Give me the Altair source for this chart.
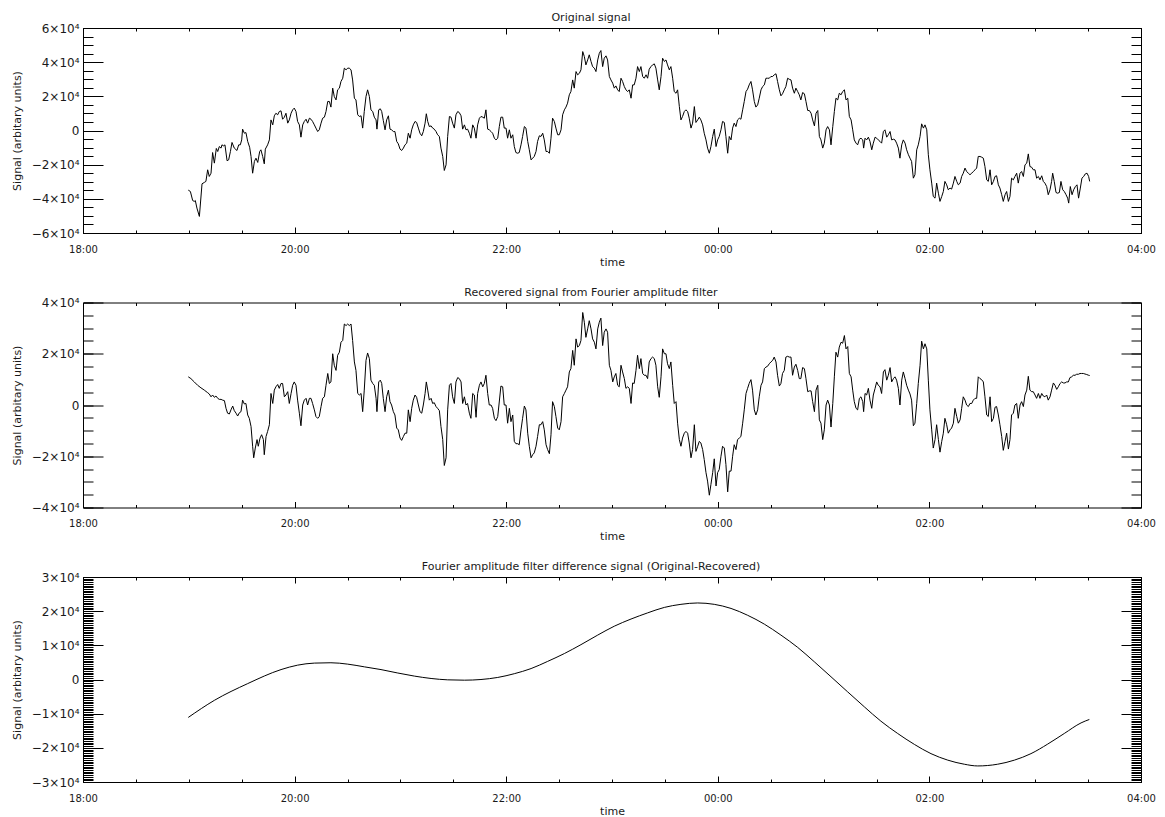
import altair as alt
import pandas as pd

# Time is given in minutes after 18:00 (so 60 = 19:00, 600 = 04:00 next day).
# Signals are in arbitrary units.

time_a1 = [59.7, 60.9, 62.2, 63.1, 63.7, 64.6, 66.0, 67.5, 68.8, 69.7,
           70.7, 71.6, 72.6, 73.5, 74.5, 75.6, 76.4, 77.3, 78.3, 78.8,
           79.8, 80.5, 81.7, 82.6, 83.6, 84.5, 85.8, 87.3, 88.3, 89.2,
           90.0, 90.5, 91.5, 92.4, 93.4, 94.5, 95.3, 96.2, 97.2, 98.1,
           99.1, 100.2, 100.9, 101.9, 102.8, 103.4, 104.7, 105.7, 106.6, 107.6,
           108.5, 109.4, 110.4, 111.3, 112.3, 113.2, 114.2, 115.1, 116.1, 117.0,
           118.0, 118.9, 119.8, 120.8, 121.7, 122.7, 123.6, 124.6, 125.5, 126.5,
           127.4, 128.4, 129.3, 130.2, 131.2, 132.1, 133.1, 134.0, 135.0, 135.9,
           136.9, 137.8, 138.8, 139.7, 140.6, 141.6, 142.5, 143.5, 144.4, 145.4,
           146.3, 147.3, 148.2, 149.2, 150.1, 151.0, 152.0, 152.9, 153.9, 154.8,
           155.8, 156.7, 157.7, 158.6, 159.5, 160.5, 161.4, 162.4, 163.3, 164.3,
           165.2, 166.2, 166.7, 167.7, 168.6, 169.4, 170.3, 171.3, 172.2, 173.2,
           174.1, 175.0, 176.0, 176.9, 177.9, 178.8, 179.8, 180.7, 181.7, 182.6,
           183.6, 184.5, 185.5, 186.4, 187.3, 188.3, 189.2, 190.2, 191.1, 192.1,
           193.0, 194.0, 194.7, 195.5, 196.4, 197.4, 198.3, 199.2, 200.2, 201.1,
           202.1, 203.0, 204.0, 204.9, 205.9, 206.8, 207.8, 208.7, 209.6, 210.6,
           211.5, 212.5, 213.4, 214.4, 215.3, 216.3, 217.2, 218.1, 219.1, 220.0,
           221.0, 221.9, 222.9, 223.8, 224.8, 225.7, 226.7, 227.6, 228.5, 229.5,
           230.4, 231.4, 232.3, 233.3, 234.2, 235.2, 236.1]

orig_a = [-34900, -35700, -41000, -41500, -41000, -45400, -50300, -31200, -30400, -29800,
          -23000, -26900, -25000, -12900, -19100, -10500, -12300, -9400, -10300, -8400,
          -9000, -8400, -17700, -17200, -12300, -7000, -10300, -11700, -8400, -8400,
          -5500, 800, -1600, -1200, -6400, -9800, -15200, -25000, -18100, -16200,
          -18700, -12300, -11300, -15200, -19500, -10900, -8400, -5500, 6200, 3300,
          8600, 10100, 9200, 11100, 11500, 6600, 7800, 10100, 4300, 6200,
          10100, 12100, 13100, 11100, 5300, 3300, -3900, 3300, 5300, 6600,
          4300, 7200, 6600, 5300, 3300, 1400, -600, 400, 4300, 7200,
          7800, 11100, 17000, 17000, 13700, 24800, 19900, 17900, 23800, 24800,
          28700, 30600, 36500, 35500, 36500, 36500, 35500, 29600, 18900, 17900,
          9200, 8200, 8600, 1400, 11100, 19900, 23800, 19900, 12100, 11100,
          7800, 6200, 800, 12100, 12700, 11100, 5900, 400, 6200, 8600,
          800, 400, -600, -600, -6400, -7800, -10900, -11700, -10300, -8400,
          -7400, -1600, -4500, 400, 3300, 5300, 4700, 1400, -1600, -3100,
          -600, 4300, 9800, 5300, 2300, 2700, 1400, 800, -600, -2500,
          -3500, -10300, -15200, -23400, -20100, -3500, 8200, 7800, 4300, 1400,
          9200, 11100, 10500, 8600, 800, 3300, 400, 800, -1600, -4500,
          3300, 1400, -4500, 3300, 7200, 8200, 7800, 7200, 12100, 800,
          400, -600, -1600, -4500, -5500, -4500, 2300]

time_a2 = [59.7, 61.2, 63.1, 65.0, 66.9, 68.8, 70.7, 71.6, 72.6, 73.5,
           74.5, 75.4, 76.4, 77.3, 78.3, 79.2, 80.2, 81.1, 82.0, 83.0,
           83.9, 84.9, 85.8, 86.8, 87.7, 88.7, 89.6, 90.5, 91.5, 92.4,
           93.4, 94.3, 95.3, 96.2, 96.8, 97.7, 98.7, 99.4, 100.4, 101.3,
           102.3, 102.8, 103.8, 104.7, 105.7, 106.6, 107.6, 108.5, 109.4, 110.4,
           111.3, 112.3, 113.2, 114.2, 115.1, 116.1, 117.0, 118.0, 118.9, 119.8,
           120.8, 121.7, 122.7, 123.6, 124.6, 125.5, 126.5, 127.4, 128.4, 129.3,
           130.2, 131.2, 132.1, 133.1, 134.0, 135.0, 135.9, 136.9, 137.8, 138.8,
           139.7, 140.6, 141.6, 142.5, 143.5, 144.4, 145.4, 146.3, 147.3, 148.2,
           149.2, 150.1, 151.0, 152.0, 152.9, 153.9, 154.8, 155.8, 156.7, 157.7,
           158.6, 159.5, 160.5, 161.4, 162.4, 163.3, 164.3, 165.2, 166.2, 166.7,
           167.7, 168.6, 169.4, 170.3, 171.3, 172.2, 173.2, 174.1, 175.0, 176.0,
           176.9, 177.9, 178.8, 179.8, 180.7, 181.7, 182.6, 183.6, 184.5, 185.5,
           186.4, 187.3, 188.3, 189.2, 190.2, 191.1, 192.1, 193.0, 194.0, 194.7,
           195.5, 196.4, 197.4, 198.3, 199.2, 200.2, 201.1, 202.1, 203.0, 204.0,
           204.9, 205.9, 206.8, 207.8, 208.7, 209.6, 210.6, 211.5, 212.5, 213.4,
           214.4, 215.3, 216.3, 217.2, 218.1, 219.1, 220.0, 221.0, 221.9, 222.9,
           223.8, 224.8, 225.7, 226.7, 227.6, 228.5, 229.5, 230.4, 231.4, 232.3,
           233.3, 234.2, 235.2]

rec_a = [11000, 10300, 9000, 7700, 6700, 5800, 4800, 4300, 3200, 3900,
         3000, 3500, 2600, 2200, 2200, 1900, 1700, -1300, -3200, -3500,
         -1900, -400, -2200, -3200, -4300, -3000, -2600, 1900, 400, 600,
         -3900, -5200, -8400, -16100, -20600, -16800, -13500, -16100, -12900, -11600,
         -13500, -19400, -12300, -10300, -7700, 4500, 600, 5800, 7100, 8000,
         6500, 8400, 8400, 3200, 3900, 5200, 600, 4500, 7700, 9000,
         7700, 1900, -3200, -8100, 0, 1900, 2600, 0, 2600, 2600,
         600, -1900, -4500, -5200, -4500, -600, 2600, 3200, 7700, 12300,
         8400, 9000, 20000, 15500, 13500, 19400, 20600, 24500, 25200, 31600,
         31000, 31600, 31000, 31600, 25200, 16800, 13500, 4500, 3900, 4500,
         -2600, 5800, 17400, 20300, 18100, 9700, 8400, 7700, 2600, -2600,
         9000, 9700, 8400, 2600, -2600, 3200, 5800, 1300, 0, -2600,
         -3900, -9000, -9700, -12900, -13800, -12300, -11000, -11000, -1900, -6500,
         -1300, 1900, 3900, 3000, 0, -2600, -3200, 0, 4500, 9000,
         5800, 1900, 2600, 600, 900, -600, -1300, -2200, -8400, -13500,
         -23600, -20600, -1900, 7700, 8400, 3200, 600, 9000, 10700, 10300,
         9000, 600, 3200, 0, 600, -3200, -5200, 4500, 3900, -4800,
         4500, 7700, 9000, 7100, 8400, 11600, 4500, 0, 0, -1300,
         -5200, -6100, -4500]

time_b = [237.0,
          238.0, 238.9, 239.9, 240.8, 241.8, 242.7, 243.7, 244.6, 245.5, 246.5,
          247.4, 248.4, 249.3, 250.3, 251.2, 252.2, 253.1, 254.1, 255.0, 255.9,
          256.9, 257.8, 258.8, 259.7, 260.7, 261.6, 262.6, 263.5, 264.5, 265.4,
          266.3, 267.3, 268.2, 269.2, 270.1, 271.1, 272.0, 273.0, 273.9, 274.8,
          275.8, 276.7, 277.7, 278.6, 279.6, 280.5, 281.5, 282.4, 283.4, 284.3,
          285.2, 286.2, 287.1, 288.1, 289.0, 290.0, 290.9, 291.9, 292.8, 293.7,
          294.7, 295.6, 296.6, 297.5, 298.5, 299.4, 300.4, 301.3, 302.2, 303.2,
          304.1, 305.1, 306.0, 307.0, 307.9, 308.9, 309.8, 310.8, 311.7, 312.6,
          313.6, 314.5, 315.5, 316.4, 317.4, 318.3, 319.3, 320.2, 321.1, 322.1,
          323.0, 324.0, 324.9, 325.9, 326.8, 327.8, 328.7, 329.7, 330.6, 331.5,
          332.5, 333.4, 334.4, 335.3, 336.3, 337.2, 338.2, 339.1, 340.0, 341.0,
          341.9, 342.9, 343.8, 344.8, 345.7, 346.7, 347.6, 348.6, 349.5, 350.4,
          351.4, 352.3, 353.3, 354.2, 355.2, 356.1, 357.1, 358.0, 359.0, 359.9,
          360.8, 361.8, 362.7, 363.7, 364.6, 365.6, 366.5, 367.5, 368.4, 369.3,
          370.3, 371.2, 372.2, 373.1, 374.1, 375.0, 376.0, 376.9, 377.8, 378.8,
          379.7, 380.7, 381.6, 382.6, 383.5, 384.5, 385.4, 386.4, 387.3, 388.2,
          389.2, 390.1, 391.1, 392.0, 393.0, 393.9, 394.9, 395.8, 396.7, 397.7,
          398.6, 399.6, 400.5, 401.5, 402.4, 403.4, 404.3, 405.3, 406.2, 407.1]

orig_b = [7800,
          7800, 1400, 1400, -4500, 400, -4500, -2500, -9400, -12900, -13300,
          -12900, -8400, -3500, 2300, 1400, -6400, -11300, -17200, -16200, -15200,
          -12300, -6400, -3100, -3500, -1600, -5500, -12300, -12300, -13300, -4500,
          7200, 5300, 1400, -2500, -2500, 400, 9200, 12100, 13700, 16000,
          20900, 22800, 29600, 24800, 34500, 32600, 33500, 35500, 46200, 43300,
          38400, 41300, 44300, 40400, 37400, 36500, 34500, 41300, 45200, 46800,
          37400, 42300, 43700, 41300, 31600, 29600, 27700, 24800, 26100, 23800,
          22800, 30600, 28700, 25700, 23800, 22800, 23800, 18900, 26700, 26700,
          30600, 37400, 34500, 37400, 31600, 30600, 32600, 30600, 35900, 37400,
          38400, 39000, 36500, 29600, 23800, 31600, 42300, 40400, 41300, 38400,
          35500, 37400, 30600, 22800, 21800, 23800, 14000, 6200, 8200, 11100,
          12100, 11100, 7200, 1400, 4300, 14000, 4700, 6200, 7800, 6200,
          3300, -1600, -5500, -10300, -13300, -9400, -3500, 800, -9400, -5500,
          -3500, 400, 5300, 4700, -3500, -13300, -3500, -5500, 1400, 4300,
          2300, 6200, 7200, 6600, 12100, 17000, 22800, 24200, 26700, 28700,
          23800, 17000, 13700, 15000, 18900, 23800, 25700, 26700, 30600, 30600,
          30600, 31600, 31600, 32600, 33200, 28700, 23800, 20300, 21500, 23800,
          25700, 30600, 30000, 29600, 24800, 21800, 24800, 22800, 20900, 17900]

rec_b = [7400,
         7100, 0, 0, -7100, -1300, -6500, -3900, -14200, -15100, -15100,
         -15500, -9700, -5200, -400, -1900, -11000, -16100, -20600, -19400, -18700,
         -16100, -12300, -7700, -7700, -6500, -9700, -15500, -17400, -19000, -11600,
         1300, -600, -4500, -9000, -9700, -6500, 3200, 4500, 5800, 7100,
         12900, 14200, 21300, 15500, 25800, 22600, 23200, 25200, 36100, 32300,
         26400, 29700, 32900, 29700, 25800, 24500, 21900, 29700, 32300, 33900,
         23200, 28400, 29700, 28400, 15500, 13500, 9000, 11000, 12300, 7700,
         7100, 15500, 12900, 10300, 6500, 7100, 6500, 600, 8600, 8400,
         13500, 19400, 14200, 18100, 12300, 11600, 11600, 10300, 16800, 18100,
         18700, 18100, 15500, 7100, 3000, 11000, 21900, 20000, 20000, 16100,
         14200, 16800, 7700, 600, 1300, -7100, -13500, -16100, -12900, -11000,
         -10300, -11000, -14800, -20600, -17400, -7700, -18100, -16100, -14200, -14800,
         -17400, -21300, -26400, -29700, -35200, -31000, -26400, -21000, -31600, -26400,
         -25200, -20000, -16100, -16800, -23200, -33900, -25800, -25800, -20000, -15500,
         -17400, -13500, -12900, -12300, -7100, -1900, 4500, 6500, 8400, 9900,
         5800, -1900, -3900, -1900, 3200, 7700, 9000, 14200, 14800, 15100,
         16100, 16800, 17400, 18700, 16800, 11600, 7400, 8400, 12300, 13500,
         18700, 19000, 18700, 18700, 11600, 14800, 15900, 13500, 10300, 10300]

time_c = [408.1, 409.1, 410.0, 411.0, 411.9, 412.9, 413.8, 414.8, 415.7, 416.7,
          417.6, 418.5, 419.5, 420.4, 421.4, 422.3, 423.3, 424.2, 425.2, 426.1,
          427.0, 428.0, 428.9, 429.9, 430.8, 431.8, 432.7, 433.7, 434.6, 435.6,
          436.5, 437.4, 438.4, 439.3, 440.3, 441.2, 442.2,
          442.7,
          443.5, 444.4, 445.4, 446.3, 447.3, 448.2, 449.2, 450.1, 451.0, 452.0,
          452.9, 453.9, 454.8, 455.8, 456.7, 457.7, 458.6, 459.6, 460.5, 461.4,
          462.4, 463.3, 464.3, 465.2, 466.2, 467.1, 468.1, 469.0, 469.9, 470.9,
          471.8, 472.8, 473.7, 474.7, 475.6, 476.6, 477.5, 478.5, 479.4, 480.3,
          481.3, 482.2, 483.2, 484.1, 485.1, 486.0, 487.0, 487.9, 488.8, 489.8,
          490.7, 491.7, 492.6, 493.6, 494.5, 495.5, 496.4, 497.4, 498.3, 499.2,
          500.2, 501.1, 502.1, 503.0, 504.0, 504.9, 505.9, 506.8, 507.7, 508.7,
          509.6, 510.6, 511.5, 512.5, 513.4, 514.4, 515.3, 516.3, 517.2, 518.1,
          519.1, 520.0, 521.0, 521.9, 522.9, 523.8, 524.8, 525.7, 526.6, 527.6,
          528.5, 529.5, 530.4, 531.4, 532.3, 533.3, 534.2, 535.2, 536.1, 537.0,
          538.0, 538.9, 539.9, 540.8, 541.8, 542.7, 543.7, 544.6, 545.5, 546.5,
          547.4, 548.4, 549.3]

orig_c = [22200, 21500, 17000, 11700, 11700, 10100, 6200, 2700, 10100, 11700,
          -3500, -5500, -10300, -7400, 400, 2300, 400, -8400, 2300, 11100,
          18900, 17900, 21800, 20900, 22800, 23800, 17900, 18900, 8200, 6200,
          400, -5500, -7400, -8400, -5100, -4500, -5500,
          -10300,
          -4500, -5500, -3900, -6400, -11300, -7400, -3900, -4500, -5500, -6400,
          -7400, -600, 400, -3900, -2500, -600, -5500, -5100, -5500, -7400,
          -10300, -16200, -8400, -5500, -7400, -11300, -14200, -16200, -18100, -27900,
          -25900, -11300, -8400, -3500, 3900, 1400, 3300, 400, -14200, -23000,
          -30800, -38600, -39600, -30800, -36700, -41500, -38600, -35700, -29800, -31800,
          -34700, -33700, -34300, -30800, -26900, -29800, -31800, -30800, -26900, -25000,
          -22000, -24000, -25000, -25900, -25000, -24000, -23000, -22000, -15200, -15200,
          -15600, -16200, -21100, -28900, -29800, -23000, -31800, -29800, -26900, -26500,
          -31800, -33700, -37600, -41500, -37600, -35700, -41500, -38600, -27900, -28900,
          -26900, -25000, -30800, -25000, -24000, -26900, -20100, -19100, -13700, -21100,
          -21500, -23000, -23000, -27900, -26900, -28900, -26500, -29800, -30800, -32800,
          -37600, -34700, -29800]

rec_c = [14600, 14200, 10300, 5200, 5500, 5500, 1300, -2600, 5800, 7700,
         -5800, -7100, -13500, -9700, 0, 1900, 0, -8600, 600, 11000,
         20600, 18700, 22600, 24500, 24100, 27100, 21900, 22800, 12300, 11000,
         5800, 1300, -1300, -1900, 2600, 3200, 1300,
         -2600,
         4500, 3900, 6500, 1900, -1300, 3900, 6500, 9000, 7700, 7100,
         4500, 12900, 13800, 9700, 11600, 14600, 9000, 10300, 11000, 9700,
         6500, 0, 9700, 12900, 10300, 7700, 5800, 4300, 1900, -8100,
         -7100, 600, 8400, 15500, 24900, 21900, 23900, 21900, 9700, -1900,
         -9700, -16800, -13500, -7700, -13500, -18400, -14200, -11000, -5200, -7700,
         -11000, -9700, -9000, -7100, -1300, -4500, -7100, -5800, -1300, 3200,
         1900, 0, -600, 600, 600, 1900, 2600, 2600, 11000, 10300,
         9900, 9000, 3200, -3900, -4500, 3200, -6500, -5200, -900, -600,
         -3900, -7700, -12300, -17700, -14200, -11000, -17200, -13500, -3900, -3200,
         0, 600, -5200, 0, 1300, -600, 3900, 5800, 11200, 5800,
         5200, 5200, 3900, 2600, 4500, 2600, 4500, 3500, 3200, 3900,
         1900, 3200, 5800]

time_d1 = [549.9, 550.8, 551.8, 552.7, 553.7, 554.6, 555.6, 556.5, 557.5, 558.4,
           559.0, 559.9, 560.9, 561.8, 562.8, 563.7, 564.6, 565.6, 566.5, 567.5,
           568.4, 569.4, 570.3, 570.9]
orig_d = [-25000, -29800, -36300, -36700, -36300, -29800, -34700, -35700, -37600, -39600,
          -42500, -32800, -37600, -34700, -32800, -31800, -39600, -33700, -27900, -26900,
          -25400, -25000, -26900, -29800]

time_d2 = [550.3, 551.2, 552.2, 553.1, 554.1, 555.0, 556.0, 556.9, 557.8, 558.8,
           559.7, 560.7, 561.6, 562.6, 563.5, 564.5, 565.4, 566.3, 567.3, 568.2,
           569.2, 570.3, 570.9]
rec_d = [8600, 7700, 6100, 7100, 8400, 9000, 8600, 8600, 9000, 9000,
         10700, 11000, 11600, 11600, 12000, 12000, 12300, 12300, 12300, 12100,
         11900, 11600, 11500]

diff_time = [59.7, 74.5, 93.4, 112.3, 121.7, 131.2, 140.6, 150.1, 159.6, 169.0,
             178.5, 187.9, 197.4, 206.8, 216.3, 225.7, 235.2, 244.6, 254.1, 263.5,
             273.0, 282.4, 291.9, 301.3, 310.8, 320.2, 329.7, 339.1, 348.6, 358.0,
             367.5, 376.9, 386.4, 395.8, 405.3, 414.7, 424.2, 433.6, 443.1, 452.5,
             462.0, 471.5, 480.9, 490.4, 499.8, 507.4, 518.7, 528.2, 537.6, 547.1,
             556.5, 566.0, 570.7]
diff_vals = [-11100, -6100, -1200, 2900, 4200, 4800, 4900, 4500, 3700, 2900,
             1900, 1000, 300, -100, -200, 0, 600, 1700, 3200, 5300,
             7600, 10200, 13000, 15600, 17700, 19500, 21100, 22000, 22400, 22000,
             20800, 18800, 16200, 13000, 9400, 5200, 800, -3600, -8000, -12200,
             -15800, -19000, -21700, -23600, -24800, -25300, -24800, -23600, -21700, -18900,
             -15800, -12700, -11700]

panel_titles = ["Original signal",
                "Recovered signal from Fourier amplitude filter",
                "Fourier amplitude filter difference signal (Original-Recovered)"]
y_title = "Signal (arbitary units)"
x_title = "time"

x_domain = [0, 600]
x_major = [0, 120, 240, 360, 480, 600]
x_minor = list(range(0, 601, 30))

y_domains = [[-60000, 60000], [-40000, 40000], [-30000, 30000]]
y_major = [[-60000, -40000, -20000, 0, 20000, 40000, 60000],
           [-40000, -20000, 0, 20000, 40000],
           [-30000, -20000, -10000, 0, 10000, 20000, 30000]]
y_minor = [list(range(-60000, 60001, 5000)),
           list(range(-40000, 40001, 5000)),
           list(range(-30000, 30001, 500))]

FONT = "DejaVu Sans"
TXT = "#1a1a1a"
X_EXPR = "timeFormat(datetime(2000, 0, 1, 18, datum.value), '%H:%M')"
Y_EXPR = ("datum.value == 0 ? '0' : (datum.value < 0 ? '\u2212' : '') + "
          "format(abs(datum.value) / 10000, 'd') + '\u00d710\u2074'")


def make_axis(orient, values, size, labels=False, expr=None, title=None,
              label_size=11, label_pad=4, title_pad=10):
    kw = dict(orient=orient, values=values, tickSize=size, offset=-size,
              domain=False, grid=False, ticks=True, tickColor="#000",
              tickWidth=1, labels=labels, title=title)
    if labels:
        kw.update(labelExpr=expr, labelFont=FONT, labelFontSize=label_size,
                  labelColor=TXT, labelPadding=label_pad, labelOverlap=False,
                  labelFlush=False)
    if title is not None:
        kw.update(titleFont=FONT, titleFontSize=11, titleFontWeight="normal",
                  titleColor=TXT, titlePadding=title_pad)
    return alt.Axis(**kw)


def panel(t, v, k, smooth=False):
    df = pd.DataFrame({"t": t, "v": v})
    xs = alt.Scale(domain=x_domain, nice=False, zero=False)
    ys = alt.Scale(domain=y_domains[k], nice=False, zero=False)
    combos = [
        (make_axis("bottom", x_major, 6, True, X_EXPR, x_title, 10, 11, 2),
         make_axis("left", y_major[k], 20, True, Y_EXPR, y_title, 12, 4, 9), 1),
        (make_axis("bottom", x_minor, 3), make_axis("left", y_minor[k], 10), 0),
        (make_axis("top", x_major, 6), make_axis("right", y_major[k], 20), 0),
        (make_axis("top", x_minor, 3), make_axis("right", y_minor[k], 10), 0),
    ]
    layers = []
    for xa, ya, op in combos:
        mk = alt.Chart(df).mark_line(color="black", strokeWidth=1, opacity=op,
                                      interpolate="monotone" if smooth else "linear")
        layers.append(mk.encode(x=alt.X("t:Q", scale=xs, axis=xa),
                                y=alt.Y("v:Q", scale=ys, axis=ya)))
    return alt.layer(*layers).resolve_axis(x="independent", y="independent").properties(
        width=1058, height=205,
        title=alt.TitleParams(text=panel_titles[k], font=FONT, fontSize=11,
                              fontWeight="normal", color=TXT, offset=-1,
                              anchor="middle", frame="group", dx=-21))


p1 = panel(time_a1 + time_b + time_c + time_d1, orig_a + orig_b + orig_c + orig_d, 0)
p2 = panel(time_a2 + time_b + time_c + time_d2, rec_a + rec_b + rec_c + rec_d, 1)
p3 = panel(diff_time, diff_vals, 2, smooth=True)

chart = alt.vconcat(p1, p2, p3, spacing=69.5, bounds="flush").properties(
    padding={"left": 2, "top": 3, "right": 0, "bottom": 0},
    background="white",
).configure_view(stroke="#000", strokeWidth=1)

chart.save("out.html", embed_options={"renderer": "svg", "actions": False})
